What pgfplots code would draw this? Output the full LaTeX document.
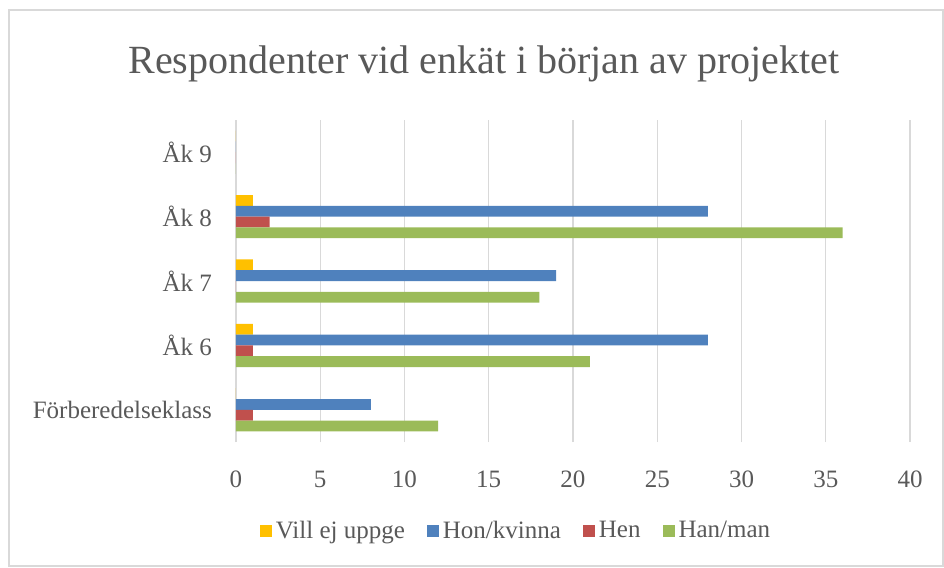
\documentclass[border=0pt]{standalone}
\usepackage{pgfplots}
\pgfplotsset{compat=1.18}
\usepackage{fontspec}
\setmainfont{Liberation Serif}
\definecolor{txt}{HTML}{595959}
\definecolor{gridc}{HTML}{D9D9D9}
\definecolor{cyel}{HTML}{FFC000}
\definecolor{cblu}{HTML}{4F81BD}
\definecolor{cred}{HTML}{C0504D}
\definecolor{cgrn}{HTML}{9BBB59}
\begin{document}
\begin{tikzpicture}
\useasboundingbox (0pt,0pt) rectangle (472pt,284pt);
\draw[gridc, line width=0.6pt] (4.5pt,1pt) rectangle (471.5pt,279pt);
\node[text=txt, font=\fontsize{20}{24}\selectfont] at (242pt,252pt) {Respondenter vid enkät i början av projektet};
\begin{axis}[
  at={(118pt,63pt)}, anchor=south west,
  scale only axis, width=337pt, height=161pt,
  xbar, bar width=5.4pt,
  xmin=0, xmax=40, ymin=-0.5, ymax=4.5,
  ytick={0,1,2,3,4},
  yticklabels={Förberedelseklass, Åk 6, Åk 7, Åk 8, Åk 9},
  xtick={0,5,...,40},
  xmajorgrids, grid style={gridc, line width=0.7pt},
  axis line style={draw=none},
  major tick length=0pt,
  tick label style={font=\fontsize{12.5}{14}\selectfont, text=txt},
  yticklabel style={xshift=-8.5pt},
  xticklabel style={yshift=-11pt},
  /pgf/number format/assume math mode=true,
  legend columns=4,
  legend style={at={(0.417,-0.276)}, anchor=center, draw=none, fill=none,
    font=\fontsize{12.5}{14}\selectfont, text=txt,
    /tikz/every even column/.append style={column sep=9pt}},
  legend image code/.code={\fill[#1] (0pt,-3pt) rectangle (6pt,3pt);},
]
\addplot[fill=cyel, draw=none, bar shift=8.1pt] coordinates {(0,0) (1,1) (1,2) (1,3) (0,4)};
\addlegendentry{Vill ej uppge}
\addplot[fill=cblu, draw=none, bar shift=2.7pt] coordinates {(8,0) (28,1) (19,2) (28,3) (0,4)};
\addlegendentry{Hon/kvinna}
\addplot[fill=cred, draw=none, bar shift=-2.7pt] coordinates {(1,0) (1,1) (0,2) (2,3) (0,4)};
\addlegendentry{Hen}
\addplot[fill=cgrn, draw=none, bar shift=-8.1pt] coordinates {(12,0) (21,1) (18,2) (36,3) (0,4)};
\addlegendentry{Han/man}
\end{axis}
\end{tikzpicture}
\end{document}
